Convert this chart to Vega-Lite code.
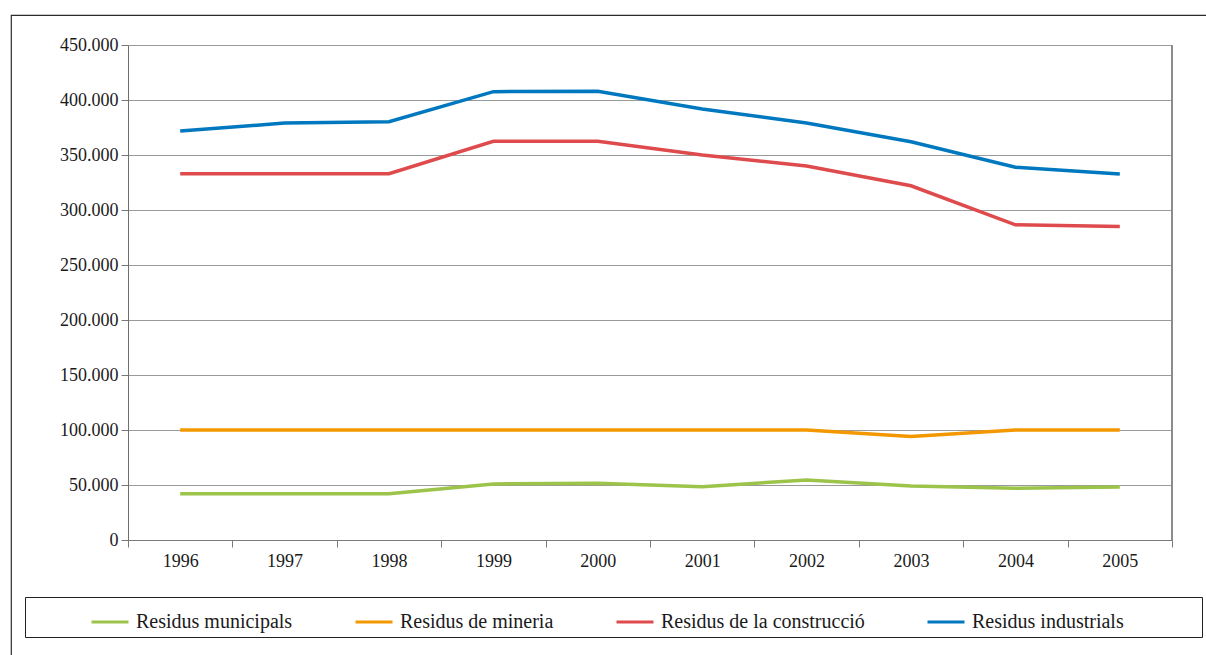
{
  "$schema": "https://vega.github.io/schema/vega-lite/v6.json",
  "width": 1201,
  "height": 646,
  "autosize": {"type": "none"},
  "padding": {"left": 11, "top": 15, "right": -6, "bottom": -6},
  "background": "#ffffff",
  "config": {
    "locale": {"number": {"decimal": ",", "thousands": ".", "grouping": [3], "currency": ["", " €"]}},
    "font": "Liberation Serif, Tinos, Times New Roman, DejaVu Serif, serif",
    "view": {"stroke": "#2b2b2b", "strokeWidth": 1.2}
  },
  "data": {
    "values": [
      {"any": 1996, "tipus": "Residus municipals", "tones": 42000},
      {"any": 1997, "tipus": "Residus municipals", "tones": 42000},
      {"any": 1998, "tipus": "Residus municipals", "tones": 42000},
      {"any": 1999, "tipus": "Residus municipals", "tones": 51000},
      {"any": 2000, "tipus": "Residus municipals", "tones": 51500},
      {"any": 2001, "tipus": "Residus municipals", "tones": 48500},
      {"any": 2002, "tipus": "Residus municipals", "tones": 54500},
      {"any": 2003, "tipus": "Residus municipals", "tones": 49000},
      {"any": 2004, "tipus": "Residus municipals", "tones": 47000},
      {"any": 2005, "tipus": "Residus municipals", "tones": 48200},
      {"any": 1996, "tipus": "Residus de mineria", "tones": 100000},
      {"any": 1997, "tipus": "Residus de mineria", "tones": 100000},
      {"any": 1998, "tipus": "Residus de mineria", "tones": 100000},
      {"any": 1999, "tipus": "Residus de mineria", "tones": 100000},
      {"any": 2000, "tipus": "Residus de mineria", "tones": 100000},
      {"any": 2001, "tipus": "Residus de mineria", "tones": 100000},
      {"any": 2002, "tipus": "Residus de mineria", "tones": 100000},
      {"any": 2003, "tipus": "Residus de mineria", "tones": 94000},
      {"any": 2004, "tipus": "Residus de mineria", "tones": 100000},
      {"any": 2005, "tipus": "Residus de mineria", "tones": 100000},
      {"any": 1996, "tipus": "Residus de la construcció", "tones": 333000},
      {"any": 1997, "tipus": "Residus de la construcció", "tones": 333000},
      {"any": 1998, "tipus": "Residus de la construcció", "tones": 333000},
      {"any": 1999, "tipus": "Residus de la construcció", "tones": 362400},
      {"any": 2000, "tipus": "Residus de la construcció", "tones": 362400},
      {"any": 2001, "tipus": "Residus de la construcció", "tones": 350000},
      {"any": 2002, "tipus": "Residus de la construcció", "tones": 340000},
      {"any": 2003, "tipus": "Residus de la construcció", "tones": 322000},
      {"any": 2004, "tipus": "Residus de la construcció", "tones": 286500},
      {"any": 2005, "tipus": "Residus de la construcció", "tones": 285000},
      {"any": 1996, "tipus": "Residus industrials", "tones": 371800},
      {"any": 1997, "tipus": "Residus industrials", "tones": 379000},
      {"any": 1998, "tipus": "Residus industrials", "tones": 380300},
      {"any": 1999, "tipus": "Residus industrials", "tones": 407600},
      {"any": 2000, "tipus": "Residus industrials", "tones": 408000},
      {"any": 2001, "tipus": "Residus industrials", "tones": 391800},
      {"any": 2002, "tipus": "Residus industrials", "tones": 379000},
      {"any": 2003, "tipus": "Residus industrials", "tones": 362000},
      {"any": 2004, "tipus": "Residus industrials", "tones": 338800},
      {"any": 2005, "tipus": "Residus industrials", "tones": 332800}
    ]
  },
  "encoding": {
    "x": {
      "field": "any",
      "type": "ordinal",
      "bandPosition": 0.5,
      "scale": {"type": "band", "paddingInner": 0, "paddingOuter": 0, "range": [117, 1161]},
      "axis": {
        "title": null,
        "offset": -121,
        "labelAngle": 0,
        "labelFontSize": 18,
        "labelColor": "#1a1a1a",
        "labelPadding": 5,
        "tickBand": "extent",
        "tickSize": 7,
        "tickColor": "#7a7a7a",
        "domainColor": "#7a7a7a",
        "grid": false
      }
    },
    "y": {
      "field": "tones",
      "type": "quantitative",
      "scale": {"domain": [0, 450000], "nice": false, "range": [525, 30]},
      "axis": {
        "title": null,
        "offset": -117,
        "values": [0, 50000, 100000, 150000, 200000, 250000, 300000, 350000, 400000, 450000],
        "format": ",d",
        "labelFontSize": 18,
        "labelColor": "#1a1a1a",
        "labelPadding": 3,
        "tickSize": 7,
        "tickColor": "#7a7a7a",
        "domainColor": "#6e6e6e",
        "gridColor": "#9a9a9a",
        "gridWidth": 1
      }
    }
  },
  "layer": [
    {
      "mark": {"type": "rule", "color": "#8c8c8c", "strokeWidth": 1},
      "encoding": {
        "x": {"datum": 2005, "type": "ordinal", "bandPosition": 1},
        "y": {"datum": 0, "type": "quantitative"},
        "y2": {"datum": 450000}
      }
    },
    {
      "mark": {"type": "line", "strokeWidth": 3.5, "interpolate": "linear"},
      "encoding": {
        "color": {
          "field": "tipus",
          "type": "nominal",
          "scale": {
            "domain": ["Residus municipals", "Residus de mineria", "Residus de la construcció", "Residus industrials"],
            "range": ["#9dc44a", "#f39800", "#df4a4c", "#0078bf"]
          },
          "legend": {
            "orient": "none",
            "legendX": 14,
            "legendY": 582,
            "direction": "horizontal",
            "columns": 4,
            "title": " ",
            "titleOrient": "right",
            "titlePadding": 73,
            "symbolType": "stroke",
            "symbolSize": 1369,
            "symbolStrokeWidth": 3,
            "symbolOffset": 60,
            "labelOffset": 6,
            "columnPadding": 1,
            "labelFontSize": 20,
            "labelColor": "#1a1a1a",
            "labelLimit": 400,
            "padding": 5,
            "strokeColor": "#222222",
            "fillColor": "#ffffff"
          }
        }
      }
    }
  ]
}
